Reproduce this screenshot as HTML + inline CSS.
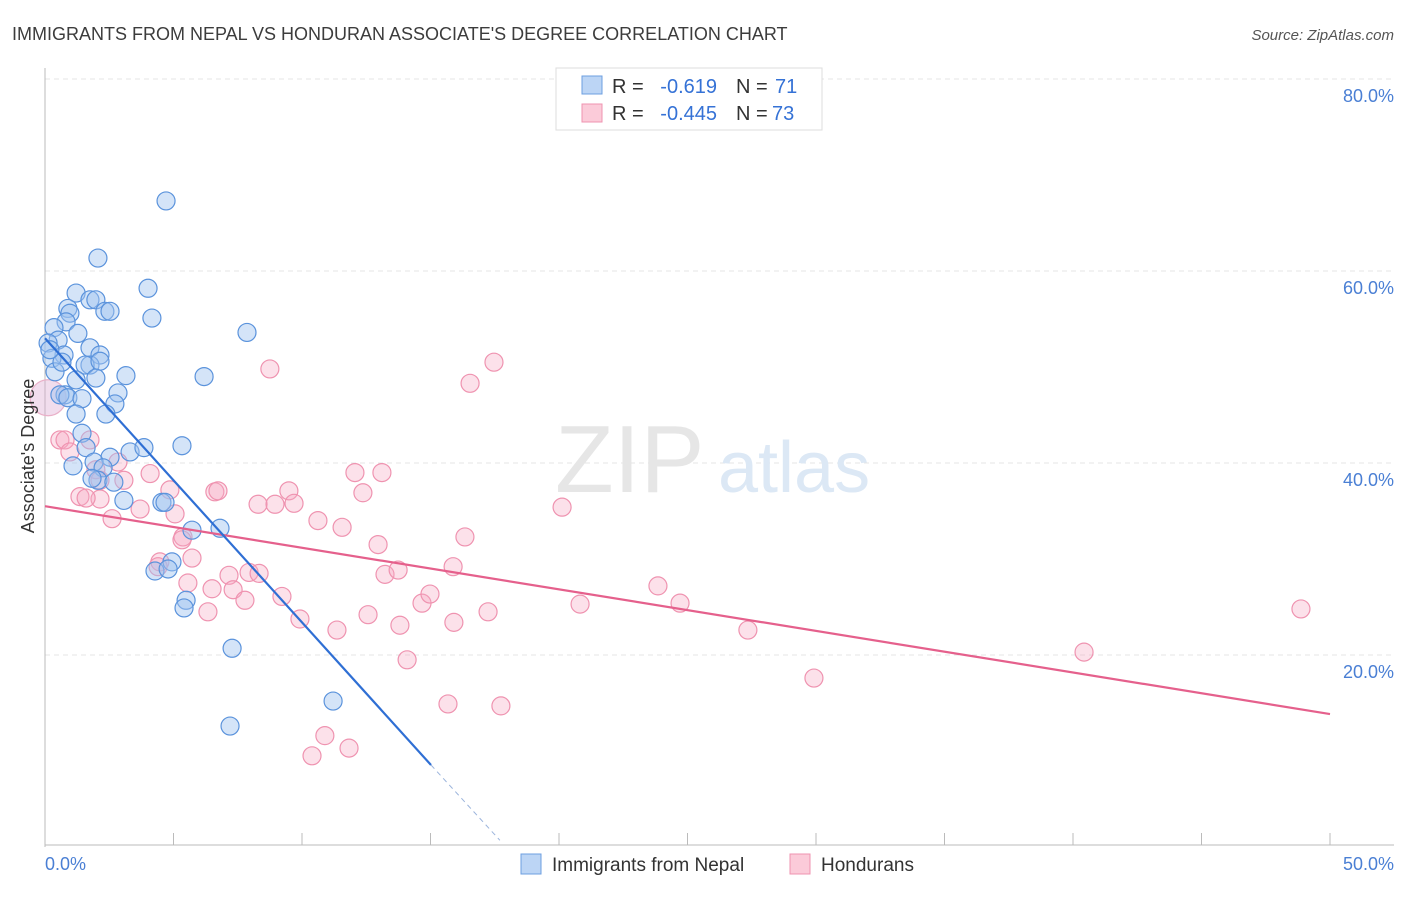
<!DOCTYPE html>
<html><head><meta charset="utf-8"><style>
body{margin:0;background:#fff;font-family:"Liberation Sans",sans-serif}
svg text{font-family:"Liberation Sans",sans-serif}
</style></head><body>
<svg id="chart" width="1406" height="892" xmlns="http://www.w3.org/2000/svg">
<text x="12" y="40" font-size="18" fill="#3c3c3c">IMMIGRANTS FROM NEPAL VS HONDURAN ASSOCIATE'S DEGREE CORRELATION CHART</text>
<text x="1394" y="40" font-size="15" fill="#555" text-anchor="end" font-style="italic">Source: ZipAtlas.com</text>
<g id="grid"></g>
<text x="555" y="492" font-size="96" fill="#e6e6e6" font-family="Liberation Serif">ZIP</text>
<text x="718" y="492" font-size="72" fill="#dce8f5">atlas</text>
<g id="marks"></g>
<text transform="translate(34,456) rotate(-90)" font-size="18" fill="#333" text-anchor="middle">Associate's Degree</text>
<text x="45" y="870" font-size="18" fill="#4a7fd4">0.0%</text>
<text x="1394" y="870" font-size="18" fill="#4a7fd4" text-anchor="end">50.0%</text>
<g>
<rect x="556" y="68" width="266" height="62" fill="#fff" stroke="#ddd"/>
<rect x="582" y="76" width="20" height="18" fill="#bcd5f5" stroke="#6d9fe0"/>
<rect x="582" y="104" width="20" height="18" fill="#fbcbd9" stroke="#ef93b0"/>
<text x="612" y="93" font-size="20" fill="#333">R =</text>
<text x="717" y="93" font-size="20" fill="#3572d6" text-anchor="end">-0.619</text>
<text x="736" y="93" font-size="20" fill="#333">N =</text>
<text x="775" y="93" font-size="20" fill="#3572d6">71</text>
<text x="612" y="120" font-size="20" fill="#333">R =</text>
<text x="717" y="120" font-size="20" fill="#3572d6" text-anchor="end">-0.445</text>
<text x="736" y="120" font-size="20" fill="#333">N =</text>
<text x="772" y="120" font-size="20" fill="#3572d6">73</text>
</g>
<g>
<rect x="521" y="854" width="20" height="20" fill="#bcd5f5" stroke="#6d9fe0"/>
<text x="552" y="871" font-size="19" fill="#333">Immigrants from Nepal</text>
<rect x="790" y="854" width="20" height="20" fill="#fbcbd9" stroke="#ef93b0"/>
<text x="821" y="871" font-size="19" fill="#333">Hondurans</text>
</g>
</svg>
<script>
const yTicks=[20,40,60,80];
const yTickLabels=["20.0%","40.0%","60.0%","80.0%"];
const xTicks=[0,5,10,15,20,25,30,35,40,45,50];
const nepalX=[4.71,2.06,4.01,1.21,1.75,1.98,0.89,2.33,2.53,4.16,0.97,0.82,0.35,1.28,7.86,0.51,0.12,1.75,0.74,2.14,0.27,1.75,1.56,2.14,0.39,6.19,1.98,1.21,3.15,2.84,0.78,0.58,0.89,1.44,2.72,2.37,1.21,1.44,3.31,3.85,5.33,1.60,1.09,2.53,1.91,2.26,2.06,1.83,2.68,3.07,4.55,4.67,6.81,5.72,4.94,4.28,4.79,5.49,5.41,7.28,7.20,11.21,0.66,0.19];
const nepalY=[67.3,61.35,58.2,57.7,57.0,57.0,56.1,55.8,55.8,55.1,55.6,54.7,54.1,53.5,53.6,52.8,52.5,52.0,51.25,51.25,50.9,50.2,50.2,50.6,49.5,49.0,48.85,48.65,49.1,47.3,47.1,47.1,46.8,46.7,46.15,45.1,45.1,43.1,41.15,41.6,41.8,41.6,39.7,40.6,40.1,39.5,38.2,38.4,38.0,36.1,35.9,35.9,33.2,33.0,29.7,28.75,28.96,25.7,24.9,20.7,12.6,15.2,50.5,51.8];
const hondX=[0.58,0.78,0.97,1.98,2.14,1.36,2.14,2.61,3.07,2.84,3.70,4.09,4.86,5.06,4.47,4.40,5.37,5.72,6.61,6.73,5.56,6.34,7.16,6.50,7.32,7.78,7.94,8.33,8.29,8.95,8.75,9.49,9.69,9.22,9.92,10.62,11.56,11.36,12.06,12.37,13.11,12.96,13.23,13.74,12.57,13.81,10.39,10.89,11.83,14.09,14.67,14.98,15.91,15.68,16.54,17.47,16.34,15.88,17.24,17.74,20.12,20.82,23.85,24.71,27.35,29.92,40.43,48.87,1.75,1.60,5.33];
const hondY=[42.4,42.4,41.15,39.3,38.2,36.5,36.25,34.2,38.2,40.1,35.2,38.9,37.2,34.7,29.7,29.2,32.3,30.1,37.0,37.1,27.5,24.5,28.3,26.9,26.8,25.7,28.6,28.5,35.7,35.7,49.8,37.1,35.8,26.1,23.75,34.0,33.3,22.6,39.0,36.9,39.0,31.5,28.4,28.85,24.2,23.1,9.5,11.6,10.3,19.5,25.4,26.35,23.4,14.9,48.3,50.5,32.3,29.2,24.5,14.7,35.4,25.3,27.2,25.4,22.6,17.6,20.3,24.8,42.4,36.35,32.0];
const bigX=[0.12], bigY=[46.8];
const nepalTrend=[[0,53.0],[15.02,8.54]], nepalDash=[[15.02,8.54],[17.7,0.7]];
const hondTrend=[[0,35.5],[50,13.85]];
const X=v=>45+v*25.7, Y=v=>847-v*9.6;
const NS="http://www.w3.org/2000/svg";
function mk(t,a,p){const e=document.createElementNS(NS,t);for(const k in a)e.setAttribute(k,a[k]);p.appendChild(e);return e;}
const gridG=document.getElementById('grid'), marksG=document.getElementById('marks');
yTicks.forEach((t,i)=>{
 const l=mk('line',{x1:45,x2:1394,y1:Y(t),y2:Y(t),stroke:'#e4e4e4','stroke-dasharray':'5,4'},gridG);
 
 
 const tx=mk('text',{x:1394,y:Y(t)+23,'font-size':18,fill:'#4a7fd4','text-anchor':'end'},gridG);
 tx.textContent=yTickLabels[i];
 
 
});
const ax=mk('line',{x1:45,x2:45,y1:68,y2:847,stroke:'#bbb'},gridG);


const bx=mk('line',{x1:45,x2:1394,y1:845,y2:845,stroke:'#bbb'},gridG);


xTicks.forEach(t=>{
 const l=mk('line',{x1:X(t),x2:X(t),y1:833,y2:845,stroke:'#bbb'},gridG);
 
 
});
function dot(x,y,r,fill,stroke,name){
 const c=mk('circle',{cx:X(x),cy:Y(y),r:r,fill:fill,stroke:stroke,'stroke-width':1.2},marksG);
 
 
}
hondX.forEach((x,i)=>dot(x,hondY[i],9,'rgba(246,170,195,0.35)','#ef93b0','honduran-point'));
bigX.forEach((x,i)=>dot(x,bigY[i],18,'rgba(220,170,210,0.4)','#e9b0c8','honduran-point-large'));
nepalX.forEach((x,i)=>dot(x,nepalY[i],9,'rgba(160,195,240,0.45)','#5b93dc','nepal-point'));
function trend(p,color,w,dash,name){
 const l=mk('line',{x1:X(p[0][0]),y1:Y(p[0][1]),x2:X(p[1][0]),y2:Y(p[1][1]),stroke:color,'stroke-width':w},marksG);
 if(dash)l.setAttribute('stroke-dasharray',dash);
 
 
}
trend(hondTrend,'#e5608c',2.2,null,'honduran-trendline');
trend(nepalTrend,'#2f6fd4',2.2,null,'nepal-trendline');
trend(nepalDash,'#9bb4dc',1,'5,4','nepal-trendline-extension');
</script>
</body></html>
